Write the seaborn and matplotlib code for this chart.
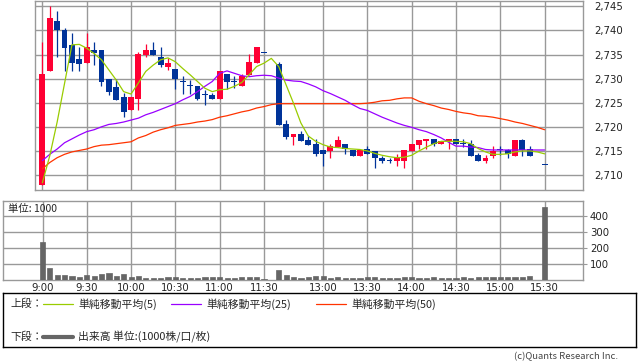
import numpy as np
import pandas as pd
import matplotlib
matplotlib.use("Agg")
import matplotlib.pyplot as plt
from matplotlib.ticker import FuncFormatter
import seaborn as sns

nan = np.nan

# 5-minute slots: 9:00..11:30 (0..30), gap (31), 12:30..15:30 (32..68)
slots = list(range(69))
tick_slots = [0, 6, 12, 18, 24, 30, 38, 44, 50, 56, 62, 68]
tick_labels = ["9:00", "9:30", "10:00", "10:30", "11:00", "11:30",
               "13:00", "13:30", "14:00", "14:30", "15:00", "15:30"]

opens = [2708.0, 2731.5, 2742.0, 2740.1, 2737.0, 2734.0, 2733.3, 2735.9, 2735.9, 2730.0,
         2728.2, 2726.1, 2723.4, 2725.8, 2735.0, 2735.9, 2734.4, 2732.5, 2732.0, 2729.3,
         2728.4, 2728.5, 2726.6, 2726.6, 2725.8, 2731.0, 2729.3, 2728.4, 2730.8, 2733.3,
         2735.4, nan, 2733.0, 2720.5, 2717.9, 2718.5, 2717.2, 2716.5, 2715.1, 2714.9,
         2715.9, 2716.5, 2715.1, 2713.9, 2715.5, 2715.0, 2713.6, 2713.0, 2712.9, 2712.9,
         2714.9, 2716.3, 2717.0, 2717.5, 2716.5, 2717.0, 2717.5, 2716.5, 2716.5, 2714.1,
         2712.9, 2713.9, 2715.2, 2715.2, 2713.9, 2717.2, 2715.4, nan, 2712.0]
highs = [2737.6, 2745.0, 2744.0, 2740.5, 2739.4, 2736.6, 2739.4, 2737.6, 2735.9, 2730.0,
         2730.0, 2727.0, 2726.1, 2735.6, 2737.1, 2737.6, 2736.6, 2734.2, 2732.0, 2730.6,
         2729.7, 2728.5, 2727.7, 2727.0, 2731.6, 2731.0, 2730.6, 2731.0, 2735.1, 2736.6,
         2735.4, nan, 2733.5, 2721.5, 2718.5, 2719.1, 2718.1, 2717.5, 2715.1, 2716.5,
         2718.1, 2716.5, 2715.1, 2715.1, 2716.1, 2715.0, 2713.9, 2713.6, 2714.3, 2715.1,
         2716.5, 2717.2, 2717.5, 2717.5, 2717.0, 2717.5, 2717.5, 2717.5, 2717.2, 2714.5,
         2714.1, 2716.1, 2716.1, 2715.5, 2717.2, 2717.5, 2716.1, nan, 2712.0]
lows = [2708.0, 2731.5, 2734.4, 2731.5, 2731.5, 2731.5, 2733.3, 2732.8, 2728.4, 2726.6,
        2725.5, 2722.0, 2723.4, 2723.4, 2734.4, 2735.0, 2732.5, 2731.8, 2727.9, 2726.9,
        2726.9, 2725.5, 2724.5, 2725.8, 2725.8, 2727.8, 2728.0, 2728.4, 2730.8, 2733.3,
        2735.4, nan, 2720.3, 2717.4, 2716.3, 2717.0, 2716.3, 2713.9, 2711.9, 2713.5,
        2715.9, 2714.3, 2713.9, 2713.9, 2714.3, 2711.4, 2712.4, 2712.4, 2711.9, 2711.5,
        2714.9, 2715.3, 2715.3, 2716.0, 2716.5, 2715.3, 2716.5, 2715.9, 2713.9, 2712.9,
        2712.4, 2713.5, 2714.1, 2713.5, 2713.9, 2713.9, 2713.9, nan, 2712.0]
closes = [2731.0, 2742.6, 2740.0, 2736.4, 2733.2, 2733.0, 2736.6, 2735.4, 2729.4, 2727.3,
          2725.5, 2723.0, 2726.1, 2735.2, 2735.9, 2735.0, 2732.8, 2733.2, 2729.9, 2729.3,
          2728.4, 2725.8, 2726.6, 2725.8, 2731.6, 2729.4, 2729.3, 2730.6, 2733.5, 2736.6,
          2735.4, nan, 2720.3, 2717.9, 2718.5, 2717.0, 2716.3, 2714.4, 2714.3, 2716.1,
          2717.2, 2715.5, 2713.9, 2715.1, 2714.3, 2713.5, 2712.9, 2713.0, 2713.5, 2715.1,
          2716.5, 2717.2, 2717.5, 2716.5, 2717.0, 2717.5, 2716.5, 2716.5, 2713.9, 2712.9,
          2713.6, 2715.0, 2715.2, 2714.4, 2717.2, 2715.2, 2713.9, nan, 2712.0]

ma5 = [2708.4, 2714.0, 2721.0, 2729.0, 2737.0, 2737.1, 2736.3, 2735.2, 2733.9, 2731.8,
       2729.7, 2727.3, 2726.8, 2729.1, 2731.5, 2732.8, 2733.9, 2734.3, 2733.5, 2732.1,
       2730.8, 2729.4, 2728.0, 2727.3, 2727.7, 2727.8, 2728.4, 2729.2, 2730.8, 2732.5,
       2733.2, 2734.2, 2732.5, 2728.7, 2724.9, 2720.8, 2718.1, 2717.0, 2716.3, 2715.8,
       2715.7, 2715.5, 2715.4, 2715.3, 2715.0, 2714.5, 2714.1, 2713.8, 2713.6, 2713.7,
       2714.1, 2715.0, 2715.8, 2716.5, 2717.0, 2717.0, 2717.0, 2716.9, 2716.5, 2715.5,
       2714.8, 2714.3, 2714.3, 2714.4, 2714.8, 2715.0, 2715.0, 2714.8, 2714.4]
ma25 = [2713.0, 2714.3, 2715.4, 2716.7, 2717.5, 2718.3, 2719.0, 2719.4, 2720.0, 2720.5,
        2720.7, 2721.0, 2721.4, 2721.8, 2722.5, 2723.0, 2723.6, 2724.2, 2724.8, 2725.6,
        2726.3, 2727.3, 2728.4, 2729.4, 2731.1, 2731.6, 2731.1, 2730.6, 2730.4, 2730.6,
        2730.7, 2730.6, 2730.1, 2729.7, 2729.5, 2729.4, 2728.9, 2728.3, 2727.5, 2726.9,
        2726.2, 2725.5, 2724.6, 2723.8, 2723.4, 2722.7, 2722.0, 2721.4, 2720.8, 2720.3,
        2719.9, 2719.4, 2719.0, 2718.4, 2717.7, 2716.8, 2716.0, 2716.0, 2715.8, 2715.7,
        2715.3, 2715.2, 2715.2, 2715.2, 2715.2, 2715.2, 2715.2, 2715.2, 2715.2]
ma50 = [2711.3, 2712.6, 2713.6, 2714.3, 2714.8, 2715.1, 2715.4, 2715.9, 2716.2, 2716.3,
        2716.5, 2716.7, 2716.9, 2717.7, 2718.2, 2718.9, 2719.4, 2719.8, 2720.3, 2720.5,
        2720.7, 2721.0, 2721.2, 2721.5, 2722.0, 2722.3, 2722.7, 2723.1, 2723.4, 2723.9,
        2724.2, 2724.6, 2724.8, 2724.8, 2724.8, 2724.8, 2724.8, 2724.8, 2724.8, 2724.8,
        2724.8, 2724.8, 2724.8, 2724.8, 2724.9, 2725.1, 2725.4, 2725.5, 2725.8, 2726.0,
        2726.0, 2725.3, 2724.8, 2724.4, 2723.9, 2723.6, 2723.2, 2722.9, 2722.7, 2722.3,
        2722.2, 2722.0, 2721.7, 2721.4, 2721.0, 2720.7, 2720.3, 2719.9, 2719.4]

volume = [240, 77, 31, 31, 25, 20, 31, 25, 37, 44, 27, 37, 20, 27, 11, 11, 11, 17, 17, 11,
          11, 11, 17, 17, 17, 11, 11, 17, 17, 17, 4, nan, 62, 31, 17, 15, 17, 22, 22, 11,
          17, 11, 11, 11, 17, 17, 11, 11, 11, 17, 17, 11, 11, 17, 11, 11, 11, 17, 11, 17,
          17, 17, 17, 17, 17, 17, 27, nan, 458]

UP = "#ff0033"
DOWN = "#003399"
GRID = "#999999"

sns.set_style("white")
plt.rcParams["font.family"] = ["DejaVu Sans", "Noto Sans CJK JP"]

df = pd.DataFrame({"slot": slots, "open": opens, "high": highs, "low": lows,
                   "close": closes, "ma5": ma5, "ma25": ma25, "ma50": ma50,
                   "volume": volume})

W, H = 638, 362
fig = plt.figure(figsize=(W / 100, H / 100), dpi=100)


def px_axes(l, t, r, b):
    return fig.add_axes([l / W, 1 - b / H, (r - l) / W, (b - t) / H])


ax = px_axes(35, 0.5, 583, 190)
axv = px_axes(3, 201, 583, 280)
axl = px_axes(3, 293, 636, 347)

# --- price panel ---
candles = df.dropna(subset=["open"])
for _, r in candles.iterrows():
    col = UP if r["close"] > r["open"] else DOWN
    ax.vlines(r["slot"], r["low"], r["high"], color=col, lw=0.9, zorder=2)
    body = max(abs(r["close"] - r["open"]), 0.22)
    ax.bar(r["slot"], body, bottom=min(r["open"], r["close"]), width=0.8,
           color=col, lw=0, zorder=3)

sns.lineplot(data=df, x="slot", y="ma50", ax=ax, color="#ff3300", lw=0.9, zorder=4)
sns.lineplot(data=df, x="slot", y="ma25", ax=ax, color="#9900ff", lw=0.9, zorder=4)
sns.lineplot(data=df, x="slot", y="ma5", ax=ax, color="#99cc00", lw=0.9, zorder=5)

ax.set_xlim(-1.0, 73.2)
ax.set_ylim(2706.9, 2746.2)
ax.set_xticks(tick_slots)
ax.set_yticks(range(2710, 2746, 5))
ax.yaxis.tick_right()
ax.yaxis.set_major_formatter(FuncFormatter(lambda v, p: f"{v:,.0f}"))
ax.tick_params(axis="x", length=0, labelbottom=False)
ax.tick_params(axis="y", length=0, pad=8, labelsize=7.3, colors="#222222")
ax.grid(True, color=GRID, lw=1.0)
ax.set_axisbelow(True)
ax.set_xlabel("")
ax.set_ylabel("")
for s in ax.spines.values():
    s.set_color(GRID)
    s.set_linewidth(1.0)

# --- volume panel ---
vol = df.dropna(subset=["volume"])
sns.barplot(data=vol, x="slot", y="volume", ax=axv, native_scale=True,
            color="#666666", saturation=1, width=0.7, errorbar=None,
            edgecolor="#666666", linewidth=0.5, zorder=3)
axv.set_xlim(-5.35, 73.2)
axv.set_ylim(0, 494)
axv.set_xticks(tick_slots)
axv.set_xticklabels(tick_labels)
axv.set_yticks([100, 200, 300, 400])
axv.yaxis.tick_right()
axv.tick_params(axis="x", length=0, pad=2, labelsize=7.3, colors="#222222")
axv.tick_params(axis="y", length=3, pad=2, labelsize=7.3, colors="#222222",
                color=GRID)
axv.grid(True, color=GRID, lw=1.0)
axv.set_axisbelow(True)
axv.set_xlabel("")
axv.set_ylabel("")
for s in axv.spines.values():
    s.set_color(GRID)
    s.set_linewidth(1.0)
    s.set_zorder(1)
axv.text(0.008, 0.9, "単位: 1000", transform=axv.transAxes, fontsize=7.5,
         va="center", ha="left", family=["Noto Sans CJK JP", "DejaVu Sans"])

# --- legend box ---
axl.set_xlim(3, 636)
axl.set_ylim(347, 293)
axl.set_xticks([])
axl.set_yticks([])
for s in axl.spines.values():
    s.set_color("#000000")
    s.set_linewidth(1.0)
jp = ["Noto Sans CJK JP", "DejaVu Sans"]
fs = 7.8
axl.text(10, 304, "上段：", fontsize=fs, va="center", family=jp)
axl.text(10, 337, "下段：", fontsize=fs, va="center", family=jp)
legend_items = [(43, "#99cc00", "単純移動平均(5)"),
                (171, "#9900ff", "単純移動平均(25)"),
                (316, "#ff3300", "単純移動平均(50)")]
for x0, c, label in legend_items:
    axl.plot([x0, x0 + 30], [304, 304], color=c, lw=0.9)
    axl.text(x0 + 35, 304, label, fontsize=fs, va="center", family=jp)
axl.plot([43, 73], [337, 337], color="#666666", lw=3)
axl.text(78, 337, "出来高 単位:(1000株/口/枚)", fontsize=fs, va="center", family=jp)

fig.text(618 / W, 1 - 357 / H, "(c)Quants Research Inc.", fontsize=6.8,
         ha="right", va="center", color="#444444", family=jp)

fig.savefig("out.png", dpi=100)
